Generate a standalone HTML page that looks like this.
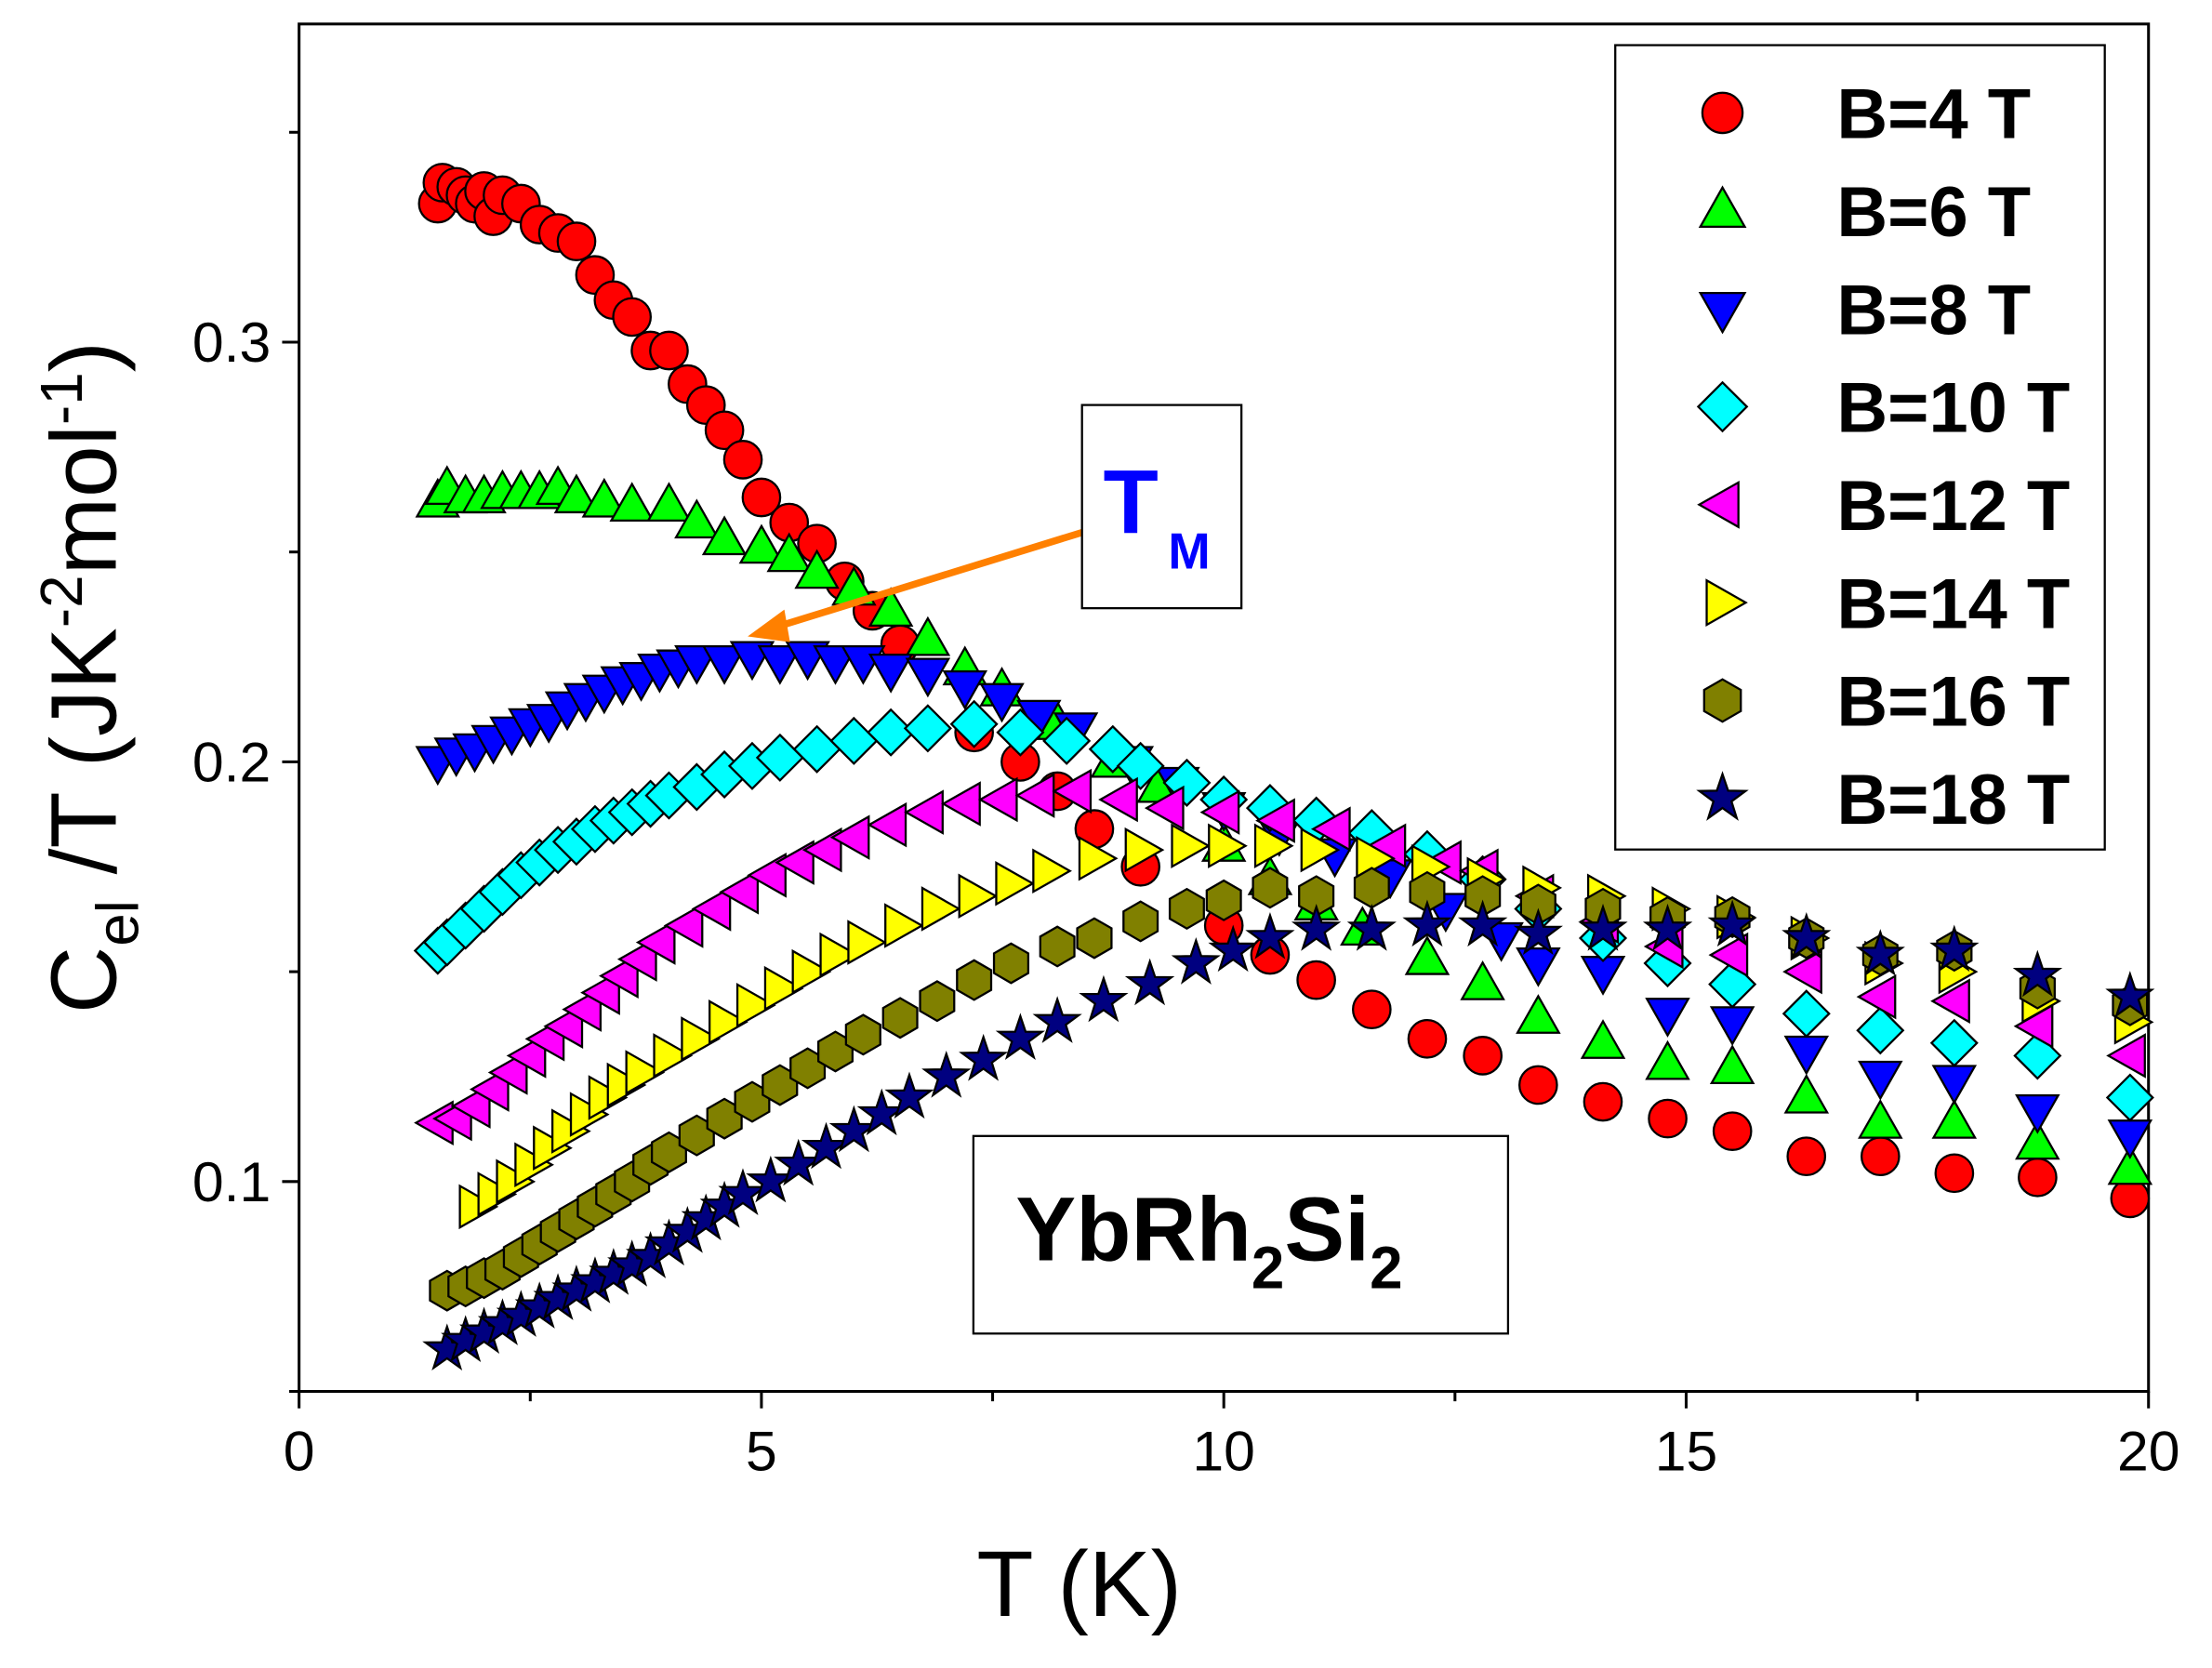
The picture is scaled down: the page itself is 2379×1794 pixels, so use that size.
<!DOCTYPE html>
<html><head><meta charset="utf-8"><style>
html,body{margin:0;padding:0;background:#fff}
svg{display:block}
text{font-family:"Liberation Sans",Arial,sans-serif}
</style></head><body>
<svg id="chart" width="2379" height="1794" viewBox="0 0 1568 1182" preserveAspectRatio="none" xmlns="http://www.w3.org/2000/svg">
<rect x="0" y="0" width="1568" height="1182" fill="#fff"/>
<g id="axes"></g>
<g id="marks"></g>
<g id="legend"></g>
<g>
<line x1="768" y1="377" x2="548" y2="445" stroke="#ff8000" stroke-width="5"/>
<polygon points="530,451 556,432 560,455" fill="#ff8000"/>
<rect x="767" y="287" width="113" height="144" fill="#fff" stroke="#000" stroke-width="1.5"/>
<text x="782" y="378" font-size="64" font-weight="bold" fill="#0000ff">T</text>
<text x="828" y="403" font-size="36" font-weight="bold" fill="#0000ff">M</text>
</g>
<g>
<rect x="690" y="805" width="379" height="140" fill="#fff" stroke="#000" stroke-width="1.5"/>
<text x="720" y="893" font-size="64" font-weight="bold">YbRh<tspan font-size="42" dy="20">2</tspan><tspan dy="-20">Si</tspan><tspan font-size="42" dy="20">2</tspan></text>
</g>
</svg>
<script>
const seriesLabels=["B=4 T","B=6 T","B=8 T","B=10 T","B=12 T","B=14 T","B=16 T","B=18 T"];
const xTicks=[0,5,10,15,20];
const yTicks=[0.1,0.2,0.3];
const t4=[1.5,1.55,1.7,1.8,1.9,2.0,2.1,2.2,2.4,2.6,2.8,3.0,3.2,3.4,3.6,3.8,4.0,4.2,4.4,4.6,4.8,5.0,5.3,5.6,5.9,6.2,6.5,7.3,7.8,8.2,8.6,9.1,10.0,10.5,11.0,11.6,12.2,12.8,13.4,14.1,14.8,15.5,16.3,17.1,17.9,18.8,19.8];
const c4=[0.333,0.338,0.337,0.335,0.333,0.336,0.330,0.335,0.333,0.328,0.326,0.324,0.316,0.310,0.306,0.298,0.298,0.290,0.285,0.279,0.272,0.263,0.257,0.252,0.243,0.236,0.228,0.207,0.200,0.193,0.184,0.175,0.161,0.154,0.148,0.141,0.134,0.130,0.123,0.119,0.115,0.112,0.106,0.106,0.102,0.101,0.096];
const t6=[1.5,1.6,1.8,2.0,2.2,2.4,2.6,2.8,3.0,3.3,3.6,4.0,4.3,4.6,5.0,5.3,5.6,6.0,6.4,6.8,7.2,7.6,8.2,8.8,9.3,10.0,10.5,11.0,11.5,12.2,12.8,13.4,14.1,14.8,15.5,16.3,17.1,17.9,18.8,19.8];
const c6=[0.262,0.265,0.263,0.263,0.264,0.264,0.264,0.265,0.263,0.262,0.261,0.261,0.257,0.253,0.251,0.249,0.245,0.241,0.236,0.229,0.222,0.217,0.209,0.200,0.194,0.180,0.172,0.166,0.160,0.153,0.147,0.139,0.133,0.128,0.127,0.120,0.114,0.114,0.109,0.103];
const t8=[1.5,1.7,1.9,2.1,2.3,2.5,2.7,2.9,3.1,3.3,3.5,3.7,3.9,4.1,4.3,4.6,4.9,5.2,5.5,5.8,6.1,6.4,6.8,7.2,7.6,8.0,8.4,9.0,9.5,10.0,10.6,11.2,11.8,12.4,13.0,13.4,14.1,14.8,15.5,16.3,17.1,17.9,18.8,19.8];
const c8=[0.200,0.202,0.203,0.205,0.207,0.209,0.210,0.213,0.215,0.217,0.219,0.220,0.222,0.223,0.224,0.224,0.225,0.224,0.225,0.224,0.224,0.222,0.221,0.218,0.215,0.211,0.208,0.200,0.195,0.189,0.183,0.178,0.173,0.165,0.158,0.152,0.150,0.140,0.138,0.131,0.125,0.124,0.117,0.111];
const t10=[1.5,1.6,1.8,2.0,2.2,2.4,2.6,2.8,3.0,3.2,3.4,3.6,3.8,4.0,4.3,4.6,4.9,5.2,5.6,6.0,6.4,6.8,7.3,7.8,8.3,8.8,9.1,9.6,10.0,10.5,11.0,11.6,12.2,12.8,13.4,14.1,14.8,15.5,16.3,17.1,17.9,18.8,19.8];
const c10=[0.155,0.157,0.161,0.165,0.169,0.173,0.176,0.179,0.181,0.184,0.186,0.188,0.190,0.192,0.194,0.197,0.199,0.201,0.203,0.205,0.207,0.208,0.209,0.207,0.205,0.203,0.199,0.195,0.191,0.189,0.186,0.183,0.178,0.172,0.165,0.158,0.152,0.147,0.140,0.136,0.133,0.130,0.120];
const t12=[1.5,1.7,1.9,2.1,2.3,2.5,2.7,2.9,3.1,3.3,3.5,3.7,3.9,4.2,4.5,4.8,5.1,5.4,5.7,6.0,6.4,6.8,7.2,7.6,8.0,8.4,8.9,9.4,10.0,10.6,11.2,11.8,12.4,12.8,13.4,14.1,14.8,15.5,16.3,17.1,17.9,18.8,19.8];
const c12=[0.114,0.115,0.118,0.122,0.126,0.130,0.134,0.137,0.141,0.145,0.149,0.153,0.157,0.161,0.165,0.169,0.173,0.176,0.179,0.182,0.185,0.188,0.190,0.191,0.192,0.193,0.191,0.189,0.188,0.186,0.184,0.180,0.176,0.174,0.168,0.162,0.156,0.154,0.150,0.144,0.143,0.137,0.130];
const t14=[1.9,2.1,2.3,2.5,2.7,2.9,3.1,3.3,3.5,3.7,4.0,4.3,4.6,4.9,5.2,5.5,5.8,6.1,6.5,6.9,7.3,7.7,8.1,8.6,9.1,9.6,10.0,10.5,11.0,11.6,12.2,12.8,13.4,14.1,14.8,15.5,16.3,17.1,17.9,18.8,19.8];
const c14=[0.094,0.097,0.100,0.104,0.108,0.112,0.116,0.120,0.123,0.126,0.130,0.134,0.138,0.142,0.146,0.150,0.154,0.157,0.161,0.165,0.168,0.171,0.174,0.177,0.179,0.180,0.180,0.180,0.179,0.177,0.175,0.172,0.170,0.168,0.165,0.163,0.158,0.152,0.150,0.143,0.138];
const t16=[1.6,1.8,2.0,2.2,2.4,2.6,2.8,3.0,3.2,3.4,3.6,3.8,4.0,4.3,4.6,4.9,5.2,5.5,5.8,6.1,6.5,6.9,7.3,7.7,8.2,8.6,9.1,9.6,10.0,10.5,11.0,11.6,12.2,12.8,13.4,14.1,14.8,15.5,16.3,17.1,17.9,18.8,19.8];
const c16=[0.074,0.075,0.077,0.079,0.082,0.085,0.088,0.091,0.094,0.097,0.100,0.104,0.107,0.111,0.115,0.119,0.123,0.127,0.131,0.135,0.139,0.143,0.148,0.152,0.156,0.158,0.162,0.165,0.167,0.170,0.168,0.170,0.169,0.168,0.166,0.165,0.163,0.163,0.158,0.154,0.155,0.146,0.142];
const t18=[1.6,1.8,2.0,2.2,2.4,2.6,2.8,3.0,3.2,3.4,3.6,3.8,4.0,4.2,4.4,4.6,4.8,5.1,5.4,5.7,6.0,6.3,6.6,7.0,7.4,7.8,8.2,8.7,9.2,9.7,10.1,10.5,11.0,11.6,12.2,12.8,13.4,14.1,14.8,15.5,16.3,17.1,17.9,18.8,19.8];
const c18=[0.060,0.062,0.064,0.066,0.068,0.070,0.072,0.074,0.076,0.078,0.080,0.082,0.085,0.088,0.091,0.094,0.097,0.100,0.104,0.108,0.112,0.116,0.120,0.125,0.129,0.134,0.138,0.143,0.147,0.152,0.155,0.158,0.160,0.160,0.161,0.161,0.159,0.160,0.160,0.161,0.158,0.154,0.155,0.149,0.144];

const NS="http://www.w3.org/2000/svg";
const X0=212,X1=1523,Y0=986,Y1=17,XMIN=0,XMAX=20,YMIN=0.05,YMAX=0.3758;
function xs(v){return X0+(v-XMIN)/(XMAX-XMIN)*(X1-X0);}
function ys(v){return Y0-(v-YMIN)/(YMAX-YMIN)*(Y0-Y1);}
function mk(tag,attrs,parent){const e=document.createElementNS(NS,tag);for(const k in attrs)e.setAttribute(k,attrs[k]);parent.appendChild(e);return e;}

const axes=document.getElementById('axes');
let fr=mk('rect',{x:X0,y:Y1,width:X1-X0,height:Y0-Y1,fill:'none',stroke:'#000','stroke-width':2},axes);


for(let v=0;v<=20.001;v+=2.5){
  const major=Math.abs(v/5-Math.round(v/5))<1e-6;
  let tk=mk('line',{x1:xs(v),x2:xs(v),y1:Y0,y2:Y0+(major?12:7),stroke:'#000','stroke-width':2},axes);
  
  
}
xTicks.forEach(v=>{
  let t=mk('text',{x:xs(v),y:Y0+56,'font-size':40,'text-anchor':'middle'},axes);
  t.textContent=String(v);
  
  
});
for(let v=0.05;v<=0.3751;v+=0.05){
  const major=Math.abs(v*10-Math.round(v*10))<1e-6;
  let tk=mk('line',{x1:X0,x2:X0-(major?12:7),y1:ys(v),y2:ys(v),stroke:'#000','stroke-width':2},axes);
  
  
}
yTicks.forEach(v=>{
  let t=mk('text',{x:X0-20,y:ys(v)+14,'font-size':40,'text-anchor':'end'},axes);
  t.textContent=v.toFixed(1);
  
  
});
let xt=mk('text',{x:765,y:1145,'font-size':66,'text-anchor':'middle'},axes);
xt.textContent='T (K)';


let yt=mk('text',{transform:'translate(82,480) rotate(-90)','font-size':66,'text-anchor':'middle'},axes);
yt.innerHTML='C<tspan font-size="42" dy="16">el</tspan><tspan dy="-16"> /T (JK</tspan><tspan font-size="42" dy="-24">-2</tspan><tspan dy="24">mol</tspan><tspan font-size="42" dy="-24">-1</tspan><tspan dy="24">)</tspan>';



const fills=['#ff0000','#00ff00','#0000ff','#00ffff','#ff00ff','#ffff00','#808000','#000080'];
const shapes=['circle','up','down','diamond','left','right','hex','star'];
function marker(shape,cx,cy,r,fill,parent){
  let p;
  const pts=a=>a.map(q=>(cx+q[0]).toFixed(1)+','+(cy+q[1]).toFixed(1)).join(' ');
  if(shape==='circle')p=mk('circle',{cx,cy,r:r*0.95},parent);
  else if(shape==='up')p=mk('polygon',{points:pts([[0,-r*1.1],[r*1.05,r*0.75],[-r*1.05,r*0.75]])},parent);
  else if(shape==='down')p=mk('polygon',{points:pts([[0,r*1.1],[r*1.05,-r*0.75],[-r*1.05,-r*0.75]])},parent);
  else if(shape==='left')p=mk('polygon',{points:pts([[-r*1.1,0],[r*0.75,r*1.05],[r*0.75,-r*1.05]])},parent);
  else if(shape==='right')p=mk('polygon',{points:pts([[r*1.1,0],[-r*0.75,r*1.05],[-r*0.75,-r*1.05]])},parent);
  else if(shape==='diamond')p=mk('polygon',{points:pts([[0,-r*1.15],[r*1.15,0],[0,r*1.15],[-r*1.15,0]])},parent);
  else if(shape==='hex'){const a=[];for(let i=0;i<6;i++){const t=Math.PI/3*i+Math.PI/6;a.push([r*Math.cos(t),r*Math.sin(t)]);}p=mk('polygon',{points:pts(a)},parent);}
  else {const a=[];for(let i=0;i<10;i++){const t=-Math.PI/2+Math.PI/5*i;const rr=i%2?r*0.45:r*1.15;a.push([rr*Math.cos(t),rr*Math.sin(t)]);}p=mk('polygon',{points:pts(a)},parent);}
  p.setAttribute('fill',fill);p.setAttribute('stroke','#000');p.setAttribute('stroke-width','1.5');
  return p;
}
const T=[t4,t6,t8,t10,t12,t14,t16,t18],C=[c4,c6,c8,c10,c12,c14,c16,c18];
const marks=document.getElementById('marks');
T.forEach((ts,si)=>{
  const g=mk('g',{},marks);
  
  
  ts.forEach((t,i)=>{
    const m=marker(shapes[si],xs(t),ys(C[si][i]),14,fills[si],g);
    
    
  });
});
const lg=document.getElementById('legend');
let lb=mk('rect',{x:1145,y:32,width:347,height:570,fill:'#fff',stroke:'#000','stroke-width':1.5},lg);


seriesLabels.forEach((s,i)=>{
  const y=80+i*69.4;
  const g=mk('g',{},lg);
  
  
  marker(shapes[i],1221,y,15,fills[i],g);
  const t=mk('text',{x:1302,y:y+18,'font-size':50,'font-weight':'bold'},g);
  t.textContent=s;
});
</script>
</body></html>
